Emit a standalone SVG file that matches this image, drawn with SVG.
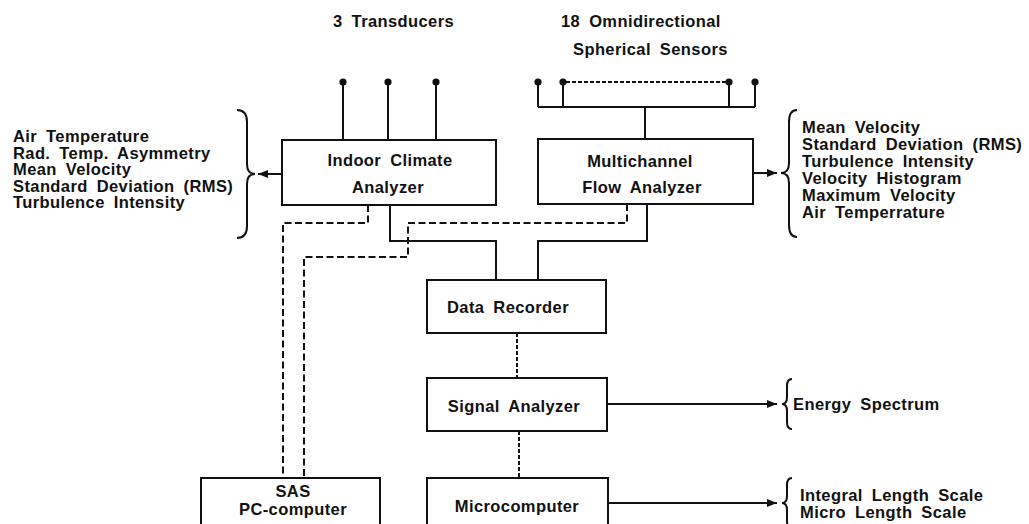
<svg xmlns="http://www.w3.org/2000/svg" width="1029" height="524" viewBox="0 0 1029 524">
  <defs>
    <style>
      .box { fill: #fff; stroke: #111; stroke-width: 2; }
      .wire { fill: none; stroke: #111; stroke-width: 2; }
      .dash { fill: none; stroke: #111; stroke-width: 2; stroke-dasharray: 7 3.5; }
      .dot-link { fill: none; stroke: #111; stroke-width: 2; stroke-dasharray: 4 2; }
      .brace { fill: none; stroke: #111; stroke-width: 2; }
      .lbl { font-family: "Liberation Sans", Arial, sans-serif; font-weight: bold; font-size: 16.5px; fill: #111; letter-spacing: 0.4px; word-spacing: 4px; }
      .mid { text-anchor: middle; }
      .probe { fill: #111; }
    </style>
    <marker id="arrow" viewBox="0 0 10 8" refX="10" refY="4" markerWidth="10" markerHeight="8" markerUnits="userSpaceOnUse" orient="auto">
      <path d="M0,0 L10,4 L0,8 Z" fill="#111"/>
    </marker>
  </defs>

  <rect width="1029" height="524" fill="#fff"/>

  <!-- headings above the probes -->
  <text class="lbl" x="333" y="27">3 Transducers</text>
  <text class="lbl" x="561" y="27">18 Omnidirectional</text>
  <text class="lbl" x="573" y="55">Spherical Sensors</text>

  <g id="connectors">
    <!-- transducer probes -->
    <path class="wire" d="M343,82 V140 M388,82 V140 M436,82 V140"/>
    <!-- spherical sensor bus -->
    <path class="wire" d="M538,82 V107 M563,82 V107 M729,82 V107 M755,82 V107 M538,107 H755 M645,107 V139"/>
    <path class="dot-link" d="M566,82 H726"/>
    <!-- analyzers to data recorder -->
    <path class="wire" d="M390,205 V241 H496 V280"/>
    <path class="wire" d="M647,204 V241 H538 V280"/>
    <!-- analyzers to PC -->
    <path class="dash" d="M368,205 V223 H283 V478"/>
    <path class="dash" d="M627,204 V223 H408 V257 H304 V478"/>
    <!-- processing chain -->
    <path class="dot-link" d="M517,333 V378"/>
    <path class="dot-link" d="M519,431 V478"/>
    <!-- outputs -->
    <path class="wire" d="M282,174 H258" marker-end="url(#arrow)"/>
    <path class="wire" d="M753,173 H777" marker-end="url(#arrow)"/>
    <path class="wire" d="M607,404 H777" marker-end="url(#arrow)"/>
    <path class="wire" d="M608,503 H777" marker-end="url(#arrow)"/>
    <!-- probe tips -->
    <circle class="probe" cx="343" cy="82" r="3.6"/>
    <circle class="probe" cx="388" cy="82" r="3.6"/>
    <circle class="probe" cx="436" cy="82" r="3.6"/>
    <circle class="probe" cx="538" cy="82" r="3.6"/>
    <circle class="probe" cx="563" cy="82" r="3.6"/>
    <circle class="probe" cx="729" cy="82" r="3.6"/>
    <circle class="probe" cx="755" cy="82" r="3.6"/>
  </g>

  <g id="indoor-climate-analyzer">
    <rect class="box" x="282" y="140" width="214" height="65"/>
    <text class="lbl mid" x="390" y="166">Indoor Climate</text>
    <text class="lbl mid" x="388" y="193">Analyzer</text>
  </g>

  <g id="multichannel-flow-analyzer">
    <rect class="box" x="538" y="139" width="215" height="65"/>
    <text class="lbl mid" x="640" y="167">Multichannel</text>
    <text class="lbl mid" x="642" y="193">Flow Analyzer</text>
  </g>

  <g id="data-recorder">
    <rect class="box" x="427" y="280" width="179" height="53"/>
    <text class="lbl mid" x="508" y="313">Data Recorder</text>
  </g>

  <g id="signal-analyzer">
    <rect class="box" x="427" y="378" width="180" height="53"/>
    <text class="lbl mid" x="514" y="412">Signal Analyzer</text>
  </g>

  <g id="microcomputer">
    <rect class="box" x="427" y="478" width="181" height="60"/>
    <text class="lbl mid" x="517" y="512">Microcomputer</text>
  </g>

  <g id="sas-pc-computer">
    <rect class="box" x="201" y="478" width="179" height="60"/>
    <text class="lbl mid" x="293" y="497">SAS</text>
    <text class="lbl mid" x="293" y="515">PC-computer</text>
  </g>

  <g id="climate-outputs">
    <path class="brace" d="M237,110 Q247,110 247,122 V164 Q247,174 255,174 Q247,174 247,184 V226 Q247,238 237,238"/>
    <text class="lbl" x="13" y="142">Air Temperature</text>
    <text class="lbl" x="13" y="158.5">Rad. Temp. Asymmetry</text>
    <text class="lbl" x="13" y="175">Mean Velocity</text>
    <text class="lbl" x="13" y="191.5">Standard Deviation (RMS)</text>
    <text class="lbl" x="13" y="208">Turbulence Intensity</text>
  </g>

  <g id="flow-outputs">
    <path class="brace" d="M797,110 Q789,110 789,122 V163 Q789,173 781,173 Q789,173 789,183 V225 Q789,237 797,237"/>
    <text class="lbl" x="802" y="133">Mean Velocity</text>
    <text class="lbl" x="802" y="150">Standard Deviation (RMS)</text>
    <text class="lbl" x="802" y="167">Turbulence Intensity</text>
    <text class="lbl" x="802" y="184">Velocity Histogram</text>
    <text class="lbl" x="802" y="201">Maximum Velocity</text>
    <text class="lbl" x="802" y="218">Air Temperrature</text>
  </g>

  <g id="spectrum-output">
    <path class="brace" d="M792,379 Q787,379 787,386 V397 Q787,404 782,404 Q787,404 787,411 V422 Q787,429 792,429"/>
    <text class="lbl" x="793" y="410">Energy Spectrum</text>
  </g>

  <g id="length-scale-output">
    <path class="brace" d="M792,478 Q787,478 787,485 V496 Q787,503 782,503 Q787,503 787,510 V521 Q787,528 792,528"/>
    <text class="lbl" x="800" y="501">Integral Length Scale</text>
    <text class="lbl" x="800" y="518">Micro Length Scale</text>
  </g>
</svg>
